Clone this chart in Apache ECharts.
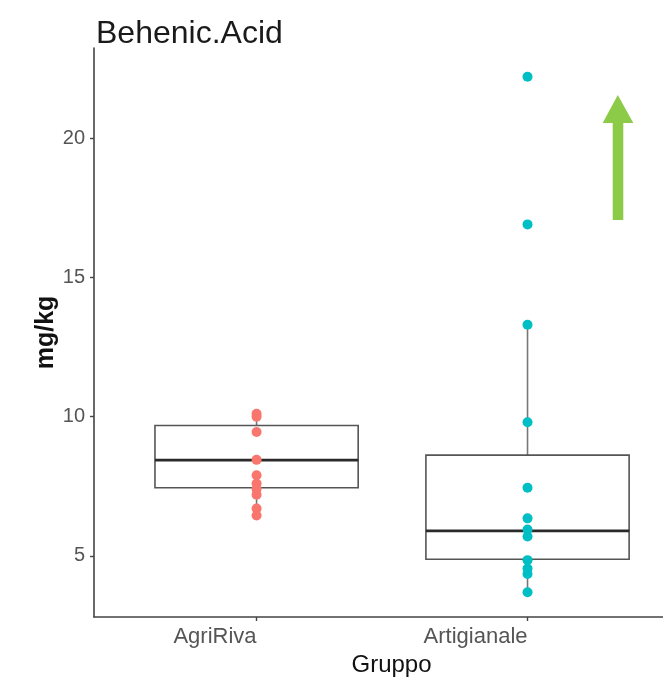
<!DOCTYPE html>
<html>
<head>
<meta charset="utf-8">
<script src="https://cdn.jsdelivr.net/npm/echarts@6/dist/echarts.min.js"></script>
<style>html,body{margin:0;padding:0;background:#fff}#c{width:663px;height:678px}</style>
</head>
<body>
<div id="c"></div>
<script>
// ---- data ----
var categories = ['AgriRiva', 'Artigianale'];
var categoryPositions = [1, 2];
// box stats: [min, Q1, median, Q3, max]
var boxAgriRiva = [6.45, 7.45, 8.44, 9.68, 10.1];
var boxArtigianale = [3.71, 4.88, 5.90, 8.62, 13.29];
var pointsAgriRiva = [10.1, 10.0, 9.45, 8.45, 7.9, 7.6, 7.4, 7.2, 6.7, 6.45];
var pointsArtigianale = [22.2, 16.9, 13.3, 9.8, 7.45, 6.35, 5.95, 5.7, 4.85, 4.55, 4.35, 3.7];
var yTicks = [5, 10, 15, 20];

var boxData = [
  [categoryPositions[0]].concat(boxAgriRiva),
  [categoryPositions[1]].concat(boxArtigianale)
];
var scatterAgri = pointsAgriRiva.map(function (v) { return [categoryPositions[0], v]; });
var scatterArt = pointsArtigianale.map(function (v) { return [categoryPositions[1], v]; });

var FONT = 'Liberation Sans, Arial, sans-serif';
var chart = echarts.init(document.getElementById('c'), null, {renderer: 'canvas'});

function renderBox(params, api) {
  var x = api.value(0);
  var mn = api.value(1), q1 = api.value(2), md = api.value(3), q3 = api.value(4), mx = api.value(5);
  var hw = 0.375;
  var pL = api.coord([x - hw, q3]);
  var pR = api.coord([x + hw, q1]);
  var pC = api.coord([x, mx]);
  var pCmin = api.coord([x, mn]);
  var pQ3 = api.coord([x, q3]);
  var pQ1 = api.coord([x, q1]);
  var mL = api.coord([x - hw, md]);
  var mR = api.coord([x + hw, md]);
  return {
    type: 'group',
    children: [
      {type: 'line', shape: {x1: pC[0], y1: pC[1], x2: pQ3[0], y2: pQ3[1]}, style: {stroke: '#777', lineWidth: 1.6}},
      {type: 'line', shape: {x1: pCmin[0], y1: pCmin[1], x2: pQ1[0], y2: pQ1[1]}, style: {stroke: '#777', lineWidth: 1.6}},
      {type: 'rect', shape: {x: pL[0], y: pL[1], width: pR[0] - pL[0], height: pR[1] - pL[1]}, style: {stroke: '#555', lineWidth: 1.6, fill: '#fff'}},
      {type: 'line', shape: {x1: mL[0], y1: mL[1], x2: mR[0], y2: mR[1]}, style: {stroke: '#2a2a2a', lineWidth: 2.6}}
    ]
  };
}

var option = {
  animation: false,
  backgroundColor: '#fff',
  title: {
    text: 'Behenic.Acid',
    left: 91, top: 13,
    textStyle: {fontFamily: FONT, fontSize: 32, fontWeight: 'normal', color: '#1a1a1a'}
  },
  grid: {left: 94, right: 0, top: 48, bottom: 61, containLabel: false, outerBoundsMode: 'none'},
  xAxis: {
    type: 'value', min: 0.4, max: 2.5,
    name: 'Gruppo', nameLocation: 'middle', nameGap: 35,
    nameTextStyle: {fontFamily: FONT, fontSize: 24, color: '#111', padding: [0, 0, 0, 26]},
    axisLine: {show: true, onZero: false, lineStyle: {color: '#444', width: 1.6}},
    axisTick: {show: true, customValues: categoryPositions, length: 4, lineStyle: {color: '#444', width: 1.4}},
    axisLabel: {
      customValues: categoryPositions, align: 'right', margin: 9,
      fontFamily: FONT, fontSize: 22, color: '#555',
      formatter: function (v) { var i = categoryPositions.indexOf(v); return i >= 0 ? categories[i] : ''; }
    },
    splitLine: {show: false}
  },
  yAxis: {
    type: 'value', min: 2.81, max: 23.23,
    name: 'mg/kg', nameLocation: 'middle', nameGap: 35, nameRotate: 90, nameMoveOverlap: false,
    nameTextStyle: {fontFamily: FONT, fontSize: 25, fontWeight: 'bold', color: '#111'},
    axisLine: {show: true, onZero: false, lineStyle: {color: '#444', width: 1.6}},
    axisTick: {show: true, customValues: yTicks, length: 4, lineStyle: {color: '#444', width: 1.4}},
    axisLabel: {customValues: yTicks, margin: 9, fontFamily: FONT, fontSize: 20, color: '#555'},
    splitLine: {show: false}
  },
  series: [
    {type: 'custom', renderItem: renderBox, data: boxData, z: 2, encode: {x: 0, y: [1, 2, 3, 4, 5]}},
    {type: 'scatter', data: scatterAgri, symbolSize: 10, itemStyle: {color: '#F8766D', opacity: 1}, z: 5},
    {type: 'scatter', data: scatterArt, symbolSize: 10, itemStyle: {color: '#00BFC4', opacity: 1}, z: 5}
  ],
  graphic: [
    {type: 'polygon', shape: {points: [[612.7, 220], [623.3, 220], [623.3, 123], [633.3, 123], [617.8, 95], [602.7, 123], [612.7, 123]]},
     style: {fill: '#8CCB48'}, z: 10}
  ]
};
chart.setOption(option);
</script>
</body>
</html>
